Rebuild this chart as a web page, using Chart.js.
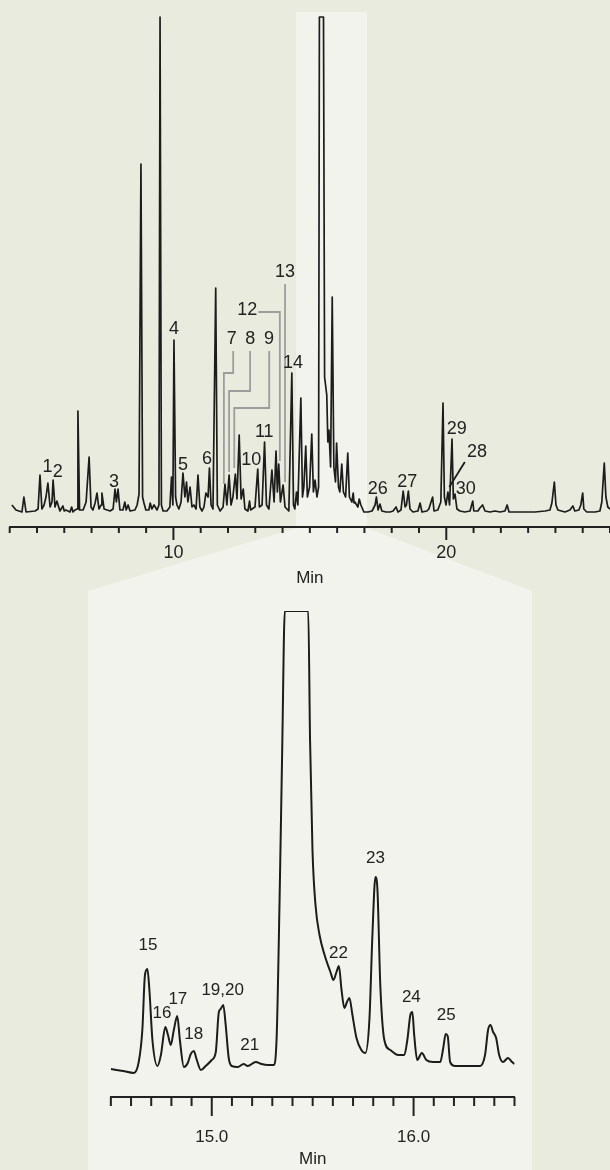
<!DOCTYPE html>
<html>
<head>
<meta charset="utf-8">
<script src="https://cdn.jsdelivr.net/npm/chart.js@4.4.1/dist/chart.umd.min.js"></script>
<style>
  html, body { margin: 0; padding: 0; }
  body { width: 610px; height: 1170px; background: #e8ebdd; position: relative; overflow: hidden; }
  #zoomBand {
    position: absolute; left: 0; top: 0; width: 610px; height: 1170px; background: #f1f3ec;
    clip-path: polygon(296px 12px, 367px 12px, 367px 528px, 532px 591px, 532px 1170px, 88px 1170px, 88px 591px, 296px 528px);
  }
  canvas { position: absolute; left: 0; }
  #overview { top: 0; }
  #detail { top: 600px; }
</style>
</head>
<body>
<div id="zoomBand"></div>
<canvas id="overview" width="610" height="600"></canvas>
<canvas id="detail" width="610" height="570"></canvas>
<script>
// full run, retention time (min) and detector response
const topTime = [4.08, 4.23, 4.45, 4.52, 4.60, 4.93, 5.04, 5.11, 5.18, 5.26, 5.33, 5.40, 5.48, 5.55, 5.59, 5.66, 5.73, 5.84, 5.95, 6.00,
  6.06, 6.21, 6.27, 6.32, 6.39, 6.47, 6.50, 6.56, 6.69, 6.80, 6.91, 6.98, 7.05, 7.13, 7.20, 7.27, 7.35, 7.38, 7.46, 7.57, 7.68, 7.79,
  7.86, 7.91, 7.97, 8.04, 8.15, 8.22, 8.27, 8.34, 8.41, 8.59, 8.67, 8.74, 8.81, 8.87, 8.92, 8.99, 9.10, 9.15, 9.21, 9.29, 9.40, 9.47, 9.51,
  9.56, 9.62, 9.76, 9.87, 9.93, 9.98, 10.02, 10.08, 10.13, 10.20, 10.28, 10.35, 10.42, 10.48, 10.53, 10.61, 10.68, 10.75,
  10.83, 10.90, 10.97, 11.05, 11.12, 11.19, 11.27, 11.32, 11.38, 11.45, 11.55, 11.61, 11.71, 11.82, 11.89, 11.96, 12.04,
  12.11, 12.18, 12.27, 12.33, 12.41, 12.48, 12.56, 12.62, 12.73, 12.79, 12.83, 12.88, 12.99, 13.09, 13.15, 13.25, 13.34, 13.41, 13.50,
  13.61, 13.69, 13.76, 13.81, 13.86, 13.92, 14.02, 14.09, 14.16, 14.23, 14.34, 14.40, 14.45, 14.51, 14.56, 14.67, 14.73,
  14.78, 14.85, 14.91, 14.99, 15.07, 15.13, 15.19, 15.26, 15.32, 15.35, 15.50, 15.54, 15.62, 15.66, 15.70, 15.76, 15.82,
  15.88, 15.94, 15.98, 16.05, 16.10, 16.17, 16.23, 16.31, 16.39, 16.45, 16.54, 16.59, 16.62, 16.65, 16.76, 16.81, 16.87, 16.98, 17.13, 17.28,
  17.39, 17.44, 17.50, 17.57, 17.64, 17.79, 17.94, 18.05, 18.16, 18.23, 18.34, 18.42, 18.49, 18.54, 18.61, 18.67, 18.78,
  18.96, 19.04, 19.11, 19.29, 19.36, 19.50, 19.55, 19.69, 19.80, 19.88, 19.93, 19.99, 20.06, 20.12, 20.21, 20.26, 20.32,
  20.39, 20.50, 20.68, 20.87, 20.97, 21.01, 21.16, 21.23, 21.33, 21.42, 21.60, 21.78, 21.97, 22.15, 22.23, 22.30, 22.52,
  22.88, 23.25, 23.62, 23.80, 23.87, 23.96, 24.02, 24.09, 24.35, 24.53, 24.64, 24.71, 24.86, 24.93, 25.00, 25.04, 25.15,
  25.45, 25.63, 25.70, 25.79, 25.85, 25.92, 26.00];
const topSignal = [22, 17, 15, 30, 15, 16, 18, 52, 18, 22, 30, 44, 20, 25, 47, 20, 26, 16, 21, 16,
  17, 15, 20, 15, 17, 18, 116, 17, 17, 25, 70, 20, 17, 24, 34, 18, 22, 34, 18, 17, 16, 18,
  38, 25, 38, 17, 17, 25, 17, 22, 16, 17, 22, 33, 363, 30, 24, 17, 17, 24, 18, 22, 17, 22, 510,
  22, 16, 16, 20, 50, 22, 187, 30, 22, 18, 25, 54, 30, 45, 25, 40, 20, 22,
  18, 52, 20, 16, 20, 34, 30, 59, 22, 18, 239, 22, 16, 20, 43, 22, 52,
  22, 30, 53, 28, 92, 28, 38, 18, 16, 26, 17, 18, 20, 58, 20, 22, 85, 22, 18,
  57, 25, 76, 35, 63, 25, 42, 20, 18, 16, 154, 22, 18, 35, 22, 129, 30,
  40, 81, 30, 40, 93, 35, 47, 30, 40, 510, 510, 150, 132, 85, 97, 60, 230,
  60, 45, 84, 40, 35, 63, 35, 30, 74, 30, 25, 34, 24, 25, 20, 28, 22, 15, 15, 16,
  22, 30, 17, 23, 16, 15, 15, 16, 20, 15, 17, 36, 20, 22, 36, 18, 15,
  16, 24, 15, 16, 18, 30, 16, 17, 25, 124, 30, 22, 35, 22, 88, 28, 33,
  18, 16, 15, 16, 26, 16, 16, 19, 22, 16, 15, 16, 15, 16, 22, 15, 15,
  15, 15, 16, 17, 24, 45, 22, 17, 15, 17, 21, 16, 17, 22, 34, 18, 15,
  15, 16, 25, 64, 30, 20, 18];

// expanded window 14.5 - 16.5 min
const detailTime = [14.50, 14.56, 14.614, 14.639, 14.656, 14.669, 14.681, 14.691, 14.706, 14.731, 14.748, 14.770, 14.783,
  14.797, 14.812, 14.829, 14.842, 14.862, 14.881, 14.896, 14.911, 14.926, 14.946, 14.970, 15.000, 15.020, 15.035, 15.044,
  15.057, 15.069, 15.084, 15.099, 15.129, 15.158, 15.178, 15.218, 15.247, 15.277, 15.306, 15.321, 15.336, 15.349, 15.362,
  15.478, 15.487, 15.499, 15.514, 15.534, 15.559, 15.588, 15.603, 15.618, 15.630, 15.643, 15.657, 15.670, 15.682, 15.697,
  15.717, 15.741, 15.761, 15.781, 15.796, 15.811, 15.821, 15.835, 15.855, 15.885, 15.924, 15.954, 15.969, 15.984, 15.994,
  16.003, 16.018, 16.041, 16.063, 16.097, 16.132, 16.147, 16.159, 16.169, 16.181, 16.206, 16.265, 16.330, 16.354, 16.369,
  16.381, 16.394, 16.409, 16.424, 16.443, 16.468, 16.488, 16.50];
const detailSignal = [28, 26, 24, 36, 67, 122, 128, 107, 57, 31, 42, 70, 62,
  52, 67, 81, 57, 30, 34, 43, 46, 37, 27, 31, 37, 45, 85, 88,
  92, 72, 39, 31, 30, 33, 31, 35, 33, 32, 32, 57, 197, 347, 486,
  486, 357, 247, 192, 162, 142, 125, 117, 125, 131, 107, 89, 95, 99, 82,
  59, 47, 44, 77, 162, 220, 207, 112, 57, 47, 42, 42, 57, 82, 85,
  62, 37, 44, 37, 35, 35, 49, 63, 61, 35, 31, 31, 31, 42, 67,
  72, 65, 59, 42, 35, 39, 35, 33];

// peak numbers: [text, time, level]
const topPeakLabels = [['1', 5.39, 60], ['2', 5.76, 55], ['3', 7.82, 45], ['4', 10.02, 198], ['5', 10.35, 62],
  ['6', 11.23, 68], ['7', 12.14, 188], ['8', 12.82, 188], ['9', 13.50, 188], ['10', 12.85, 67], ['11', 13.33, 95],
  ['12', 12.71, 217], ['13', 14.09, 255], ['14', 14.38, 164], ['26', 17.49, 38], ['27', 18.57, 45],
  ['29', 20.38, 98], ['28', 21.13, 75], ['30', 20.71, 38]];
const topLeaders = [
  { color: '#9d9d9d', path: [[12.19, 176], [12.19, 154], [11.85, 154], [11.85, 43]] },
  { color: '#9d9d9d', path: [[12.81, 176], [12.81, 136], [12.04, 136], [12.04, 55]] },
  { color: '#9d9d9d', path: [[13.51, 176], [13.51, 119], [12.23, 119], [12.23, 59]] },
  { color: '#9d9d9d', path: [[13.11, 215], [13.90, 215], [13.90, 66]] },
  { color: '#9d9d9d', path: [[14.09, 243], [14.09, 45]] },
  { color: '#1c1c1c', path: [[20.11, 40], [20.68, 65]] }
];
const detailPeakLabels = [['15', 14.684, 152], ['16', 14.753, 84], ['17', 14.832, 98], ['18', 14.911, 63],
  ['19,20', 15.054, 107], ['21', 15.188, 52], ['22', 15.628, 144], ['23', 15.811, 239], ['24', 15.989, 100],
  ['25', 16.162, 82]];

const FONT = '"Liberation Sans", Arial, Helvetica, sans-serif';
Chart.defaults.font.family = FONT;
Chart.defaults.color = '#222';

const chromMarks = {
  id: 'chromMarks',
  afterDraw(chart, args, opts) {
    const ctx = chart.ctx;
    const xs = chart.scales.x, ys = chart.scales.y;
    ctx.save();
    ctx.strokeStyle = '#222';
    ctx.lineWidth = 2;
    xs.ticks.forEach(tk => {
      const px = xs.getPixelForValue(tk.value);
      const len = tk.label ? opts.major : opts.minor;
      ctx.beginPath();
      ctx.moveTo(px, xs.top);
      ctx.lineTo(px, xs.top + len);
      ctx.stroke();
    });
    (opts.leaders || []).forEach(ld => {
      ctx.strokeStyle = ld.color;
      ctx.lineWidth = 1.8;
      ctx.beginPath();
      ld.path.forEach(([t, v], i) => {
        const px = xs.getPixelForValue(t), py = ys.getPixelForValue(v);
        if (i) ctx.lineTo(px, py); else ctx.moveTo(px, py);
      });
      ctx.stroke();
    });
    ctx.fillStyle = '#222';
    ctx.font = opts.size + 'px ' + FONT;
    ctx.textAlign = 'center';
    ctx.textBaseline = 'middle';
    opts.labels.forEach(([txt, t, v]) => {
      ctx.fillText(txt, xs.getPixelForValue(t), ys.getPixelForValue(v));
    });
    ctx.restore();
  }
};

function trace(times, values) {
  return times.map((t, i) => ({ x: t, y: values[i] }));
}

// keep the axis exactly inside layout.padding (tick padding would widen it)
function fitAxis(h) {
  return s => { s.height = h; s.paddingLeft = 0; s.paddingRight = 0; };
}

new Chart(document.getElementById('overview'), {
  type: 'line',
  data: {
    datasets: [{
      data: trace(topTime, topSignal),
      borderColor: '#1c1c1c',
      borderWidth: 1.7,
      borderJoinStyle: 'round',
      pointRadius: 0,
      fill: false
    }]
  },
  options: {
    responsive: false,
    animation: false,
    events: [],
    layout: { padding: { left: 9.7, right: 0, top: 12, bottom: 0 } },
    plugins: {
      legend: { display: false },
      tooltip: { enabled: false },
      chromMarks: { minor: 6, major: 13, size: 18, labels: topPeakLabels, leaders: topLeaders }
    },
    scales: {
      x: {
        type: 'linear',
        min: 4,
        max: 26,
        afterFit: fitAxis(73),
        grid: { display: false, drawTicks: false },
        border: { display: true, color: '#222', width: 2 },
        ticks: {
          stepSize: 1,
          autoSkip: false,
          maxRotation: 0,
          padding: 15,
          color: '#222',
          font: { size: 18 },
          callback: v => (v % 10 === 0 ? String(v) : '')
        },
        title: { display: true, text: 'Min', color: '#222', font: { size: 17 }, padding: { top: 0, bottom: 11 } }
      },
      y: { display: false, min: 0, max: 515 }
    }
  },
  plugins: [chromMarks]
});

new Chart(document.getElementById('detail'), {
  type: 'line',
  data: {
    datasets: [{
      data: trace(detailTime, detailSignal),
      borderColor: '#1c1c1c',
      borderWidth: 2,
      borderJoinStyle: 'round',
      cubicInterpolationMode: 'monotone',
      pointRadius: 0,
      fill: false
    }]
  },
  options: {
    responsive: false,
    animation: false,
    events: [],
    layout: { padding: { left: 110.85, right: 95.5, top: 11, bottom: 0 } },
    plugins: {
      legend: { display: false },
      tooltip: { enabled: false },
      chromMarks: { minor: 9, major: 19, size: 17, labels: detailPeakLabels, leaders: [] }
    },
    scales: {
      x: {
        type: 'linear',
        min: 14.5,
        max: 16.5,
        afterFit: fitAxis(73),
        grid: { display: false, drawTicks: false },
        border: { display: true, color: '#222', width: 2 },
        ticks: {
          stepSize: 0.1,
          autoSkip: false,
          maxRotation: 0,
          padding: 30,
          color: '#222',
          font: { size: 17 },
          callback: v => (Math.abs(v - 15) < 1e-6 ? '15.0' : Math.abs(v - 16) < 1e-6 ? '16.0' : '')
        },
        title: { display: true, text: 'Min', color: '#222', font: { size: 17 }, padding: { top: 0, bottom: 0 } }
      },
      y: { display: false, min: 0, max: 486 }
    }
  },
  plugins: [chromMarks]
});
</script>
</body>
</html>
